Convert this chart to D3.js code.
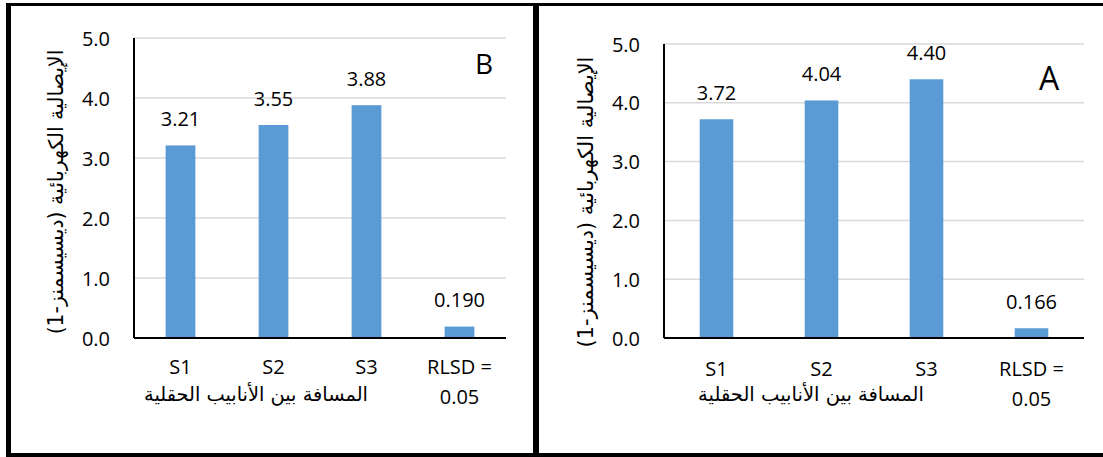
<!DOCTYPE html>
<html>
<head>
<meta charset="utf-8">
<script src="https://cdn.jsdelivr.net/npm/d3@7"></script>
<style>
  html, body { margin: 0; padding: 0; background: #fff; }
  svg { display: block; }
  .num { font-family: "Open Sans", sans-serif; fill: #000; }
  .ar { font-family: "DejaVu Sans", sans-serif; fill: #000; }
</style>
</head>
<body>
<svg id="chart" width="1103" height="457"></svg>
<script>
// ---- data ----
const categories = ["S1", "S2", "S3", "RLSD"];
const categoryLabels = [["S1"], ["S2"], ["S3"], ["RLSD =", "0.05"]];
const valuesB = [3.21, 3.55, 3.88, 0.190];
const labelsB = ["3.21", "3.55", "3.88", "0.190"];
const valuesA = [3.72, 4.04, 4.40, 0.166];
const labelsA = ["3.72", "4.04", "4.40", "0.166"];
const yTicks = [0, 1, 2, 3, 4, 5];
const yTitle = "الإيصالية الكهربائية (ديسيسمنز-1)";
const xTitle = "المسافة بين الأنابيب الحقلية";

const svg = d3.select("#chart");
const BAR = "#5b9bd5";
const GRID = "#d9d9d9";

// frame
const frame = svg.append("g");
frame.append("line").attr("x1", 6).attr("x2", 1103).attr("y1", 4.5).attr("y2", 4.5).attr("stroke", "#000").attr("stroke-width", 3);
frame.append("line").attr("x1", 8.5).attr("x2", 8.5).attr("y1", 3).attr("y2", 457).attr("stroke", "#000").attr("stroke-width", 5);
frame.append("line").attr("x1", 6).attr("x2", 1103).attr("y1", 455).attr("y2", 455).attr("stroke", "#000").attr("stroke-width", 4);
frame.append("line").attr("x1", 536).attr("x2", 536).attr("y1", 3).attr("y2", 457).attr("stroke", "#000").attr("stroke-width", 6);

function fitText(sel, target, base) {
  const len = sel.node().getComputedTextLength();
  sel.style("font-size", (base * target / len) + "px");
}

function panel(cfg) {
  const g = svg.append("g");
  const x = d3.scaleBand().domain(categories).range([cfg.x0, cfg.x1]).paddingInner(0.68).paddingOuter(0.34);
  const y = d3.scaleLinear().domain([0, 5]).range([cfg.yBase, cfg.yTop]);

  // gridlines
  g.selectAll(".grid").data(yTicks.filter(d => d > 0)).join("line")
    .attr("x1", cfg.x0).attr("x2", cfg.x1)
    .attr("y1", d => y(d)).attr("y2", d => y(d))
    .attr("stroke", GRID).attr("stroke-width", 1.5);

  // y axis tick labels
  const ya = g.append("g").attr("transform", `translate(${cfg.x0},0)`)
    .call(d3.axisLeft(y).tickValues(yTicks).tickFormat(d3.format(".1f")).tickSize(0).tickPadding(24));
  ya.select(".domain").remove();
  ya.selectAll("text").attr("class", "num").style("font-size", "20px").attr("dy", "0.35em").attr("fill", "#000");

  // bars
  g.selectAll(".bar").data(cfg.values).join("rect")
    .attr("x", (d, i) => x(categories[i]))
    .attr("width", x.bandwidth())
    .attr("y", d => y(d))
    .attr("height", d => y(0) - y(d))
    .attr("fill", BAR);

  // value labels
  g.selectAll(".vl").data(cfg.values).join("text")
    .attr("class", "num")
    .attr("x", (d, i) => x(categories[i]) + x.bandwidth() / 2)
    .attr("y", d => y(d) - 19.5)
    .attr("text-anchor", "middle")
    .style("font-size", "20px")
    .text((d, i) => cfg.labels[i]);

  // axis lines
  g.append("line").attr("x1", cfg.x0).attr("x2", cfg.x0).attr("y1", cfg.yTop).attr("y2", cfg.yBase)
    .attr("stroke", "#000").attr("stroke-width", 2);
  // x axis
  const xa = g.append("g").attr("transform", `translate(0,${cfg.yBase})`)
    .call(d3.axisBottom(x).tickSize(0).tickFormat(""));
  xa.select(".domain").attr("stroke", "#000").attr("stroke-width", 2).attr("d", `M${cfg.x0},0H${cfg.x1}`);
  xa.selectAll(".tick").each(function (d, i) {
    const t = d3.select(this).append("text").attr("class", "num")
      .attr("text-anchor", "middle").style("font-size", "20px").attr("fill", "#000");
    categoryLabels[i].forEach((s, k) => {
      t.append("tspan").attr("x", 0).attr("y", cfg.catBaseline - cfg.yBase + k * 30).text(s);
    });
  });

  // y title
  const yt = g.append("text").attr("class", "ar")
    .attr("transform", `translate(${cfg.ytX},${cfg.ytY}) rotate(-90)`)
    .attr("text-anchor", "middle").attr("dominant-baseline", "central")
    .attr("direction", "rtl")
    .style("font-size", "16px").text(yTitle);
  fitText(yt, cfg.ytLen, 16);

  // x title
  const xt = g.append("text").attr("class", "ar")
    .attr("x", cfg.xtX).attr("y", cfg.xtY)
    .attr("text-anchor", "middle").attr("direction", "rtl")
    .style("font-size", "16px").text(xTitle);
  fitText(xt, cfg.xtLen, 16);

  // panel letter
  g.append("text").attr("class", "num")
    .attr("x", cfg.letterX).attr("y", cfg.letterY)
    .attr("text-anchor", "middle").attr("dominant-baseline", "central")
    .style("font-size", cfg.letterSize + "px").text(cfg.letter);
}

panel({
  x0: 134, x1: 506, yTop: 38, yBase: 338,
  values: valuesB, labels: labelsB,
  catBaseline: 374,
  ytX: 56, ytY: 192, ytLen: 285,
  xtX: 256, xtY: 401, xtLen: 224,
  letter: "B", letterX: 484, letterY: 63, letterSize: 28
});
panel({
  x0: 664, x1: 1084, yTop: 44, yBase: 338,
  values: valuesA, labels: labelsA,
  catBaseline: 376,
  ytX: 586, ytY: 202, ytLen: 291,
  xtX: 811, xtY: 401, xtLen: 226,
  letter: "A", letterX: 1049, letterY: 77, letterSize: 32
});
</script>
</body>
</html>
